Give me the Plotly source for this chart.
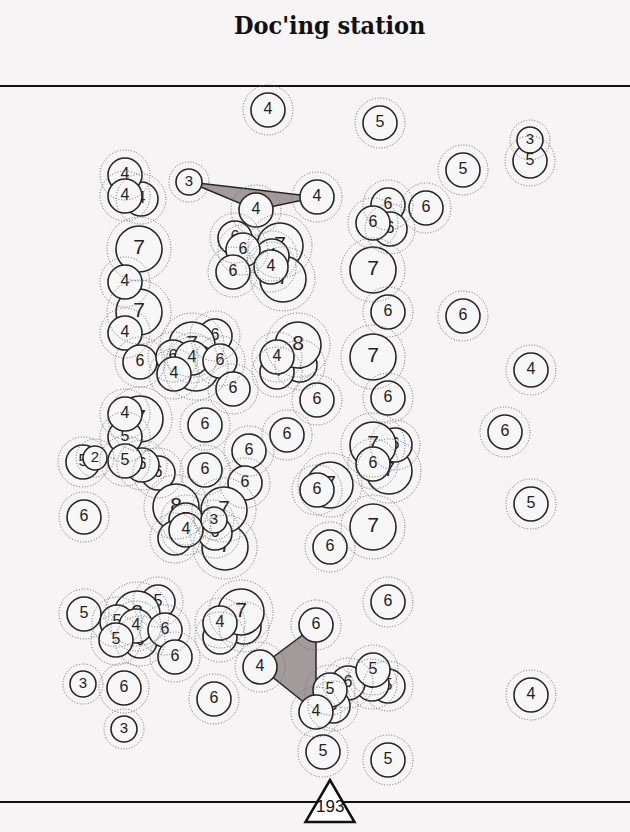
import plotly.graph_objects as go

# ---- data (positions, in chart units) ----
node_x = [268, 380, 463, 530, 530, 141, 125, 125, 189, 317, 256,
          235, 280, 283, 272, 243, 233, 271,
          388, 390, 373, 426, 373, 388, 463,
          139, 139, 125, 125, 140,
          215, 192, 196, 173, 192, 220, 174, 233,
          300, 277, 298, 277, 373, 317, 388, 531, 505, 287, 205,
          140, 125, 158, 142, 125, 125, 83, 95, 84, 249, 205, 245,
          176, 186, 175, 225, 224, 215, 186, 214,
          330, 317, 389, 395, 373, 373, 373, 330, 531,
          84, 158, 140, 137, 117, 136, 165, 116, 175, 83, 124, 124, 214,
          244, 220, 241, 220, 316, 388, 260,
          388, 372, 348, 373, 333, 330, 316, 323, 388, 531]
node_y = [110, 123, 170, 161, 140, 199, 175, 196, 182, 197, 210,
          238, 246, 279, 256, 250, 272, 267,
          205, 229, 223, 208, 270, 312, 316,
          249, 312, 282, 333, 362,
          336, 345, 368, 357, 358, 361, 374, 389,
          365, 372, 345, 357, 357, 400, 398, 370, 432, 435, 425,
          419, 437, 473, 465, 461, 414, 462, 458, 517, 451, 470, 483,
          507, 520, 538, 547, 510, 533, 530, 520,
          485, 490, 471, 445, 445, 464, 527, 547, 504,
          614, 602, 641, 614, 622, 626, 630, 640, 657, 684, 688, 729, 699,
          627, 637, 612, 623, 625, 602, 667,
          686, 684, 683, 670, 706, 690, 712, 752, 760, 695]
node_label = ['4', '5', '5', '5', '3', '4', '4', '4', '3', '4', '4',
              '6', '7', '7', '4', '6', '6', '4',
              '6', '6', '6', '6', '7', '6', '6',
              '7', '7', '4', '4', '6',
              '6', '7', '7', '6', '4', '6', '4', '6',
              '6', '4', '8', '4', '7', '6', '6', '4', '6', '6', '6',
              '7', '5', '6', '6', '5', '4', '5', '2', '6', '6', '6', '6',
              '8', '5', '6', '7', '7', '6', '4', '3',
              '7', '6', '7', '6', '7', '6', '7', '6', '5',
              '5', '5', '6', '8', '5', '4', '6', '5', '6', '3', '6', '3', '6',
              '6', '4', '7', '4', '6', '6', '4',
              '5', '5', '6', '5', '6', '5', '4', '5', '5', '4']

# groups (shaded polygons) as indices into the node arrays
groups = [[8, 10, 9], [95, 97, 104]]

station_x = 330
station_y = 802
station_label = '193'

title = "Doc'ing station"

# ---- styling ----
BG = '#f6f4f5'
FILL = '#f8f7f7'
EDGE = '#262626'
RADIUS = {'2': 12, '3': 13, '4': 17, '5': 17, '6': 17, '7': 23, '8': 23}
RING = {'2': 19, '3': 20, '4': 25, '5': 25, '6': 25, '7': 32, '8': 32}
FONT = {'2': 15, '3': 15, '4': 16, '5': 16, '6': 16, '7': 21, '8': 21}

fig = go.Figure()

# shaded polygons below nodes
for g in groups:
    xs = [node_x[i] for i in g] + [node_x[g[0]]]
    ys = [node_y[i] for i in g] + [node_y[g[0]]]
    fig.add_trace(go.Scatter(x=xs, y=ys, mode='lines', fill='toself',
                             fillcolor='#a39b9b',
                             line=dict(color=EDGE, width=1.5),
                             hoverinfo='skip', showlegend=False))

# nodes, one trace each so later nodes cover earlier ones
for x, y, lab in zip(node_x, node_y, node_label):
    fig.add_trace(go.Scatter(
        x=[x], y=[y], mode='markers+text', text=[lab],
        textposition='middle center',
        textfont=dict(family='Liberation Sans, Arial, sans-serif',
                      size=FONT[lab], color='#222222'),
        marker=dict(symbol='circle', size=2 * RADIUS[lab], color=FILL,
                    line=dict(color=EDGE, width=1.6)),
        hoverinfo='skip', showlegend=False))

shapes = []
# horizontal rules
for yy in (86, station_y):
    shapes.append(dict(type='line', xref='paper', yref='y', x0=0, x1=1,
                       y0=yy, y1=yy, line=dict(color='#111111', width=2),
                       layer='above'))
# dotted outer rings
for x, y, lab in zip(node_x, node_y, node_label):
    R = RING[lab]
    shapes.append(dict(type='circle', xref='x', yref='y',
                       xsizemode='pixel', ysizemode='pixel',
                       xanchor=x, yanchor=y, x0=-R, x1=R, y0=-R, y1=R,
                       line=dict(color='#707070', width=1, dash='1px,1.8px'),
                       layer='above'))
# station triangle
shapes.append(dict(type='path', xref='x', yref='y',
                   xsizemode='pixel', ysizemode='pixel',
                   xanchor=station_x, yanchor=station_y,
                   path='M -24.5,-20 L 24.5,-20 L 0,22 Z',
                   fillcolor='#ffffff', line=dict(color='#111111', width=2.5),
                   layer='above'))

fig.update_layout(
    width=630, height=832,
    margin=dict(l=0, r=0, t=0, b=0),
    paper_bgcolor=BG, plot_bgcolor=BG,
    xaxis=dict(range=[0, 630], visible=False, fixedrange=True),
    yaxis=dict(range=[832, 0], visible=False, fixedrange=True),
    shapes=shapes,
    annotations=[
        dict(text='<b>' + title + '</b>', x=329, y=25, xref='x', yref='y',
             showarrow=False,
             font=dict(family='DejaVu Serif Condensed', size=25, color='#111111')),
        dict(text=station_label, x=station_x, y=station_y + 4, xref='x', yref='y',
             showarrow=False,
             font=dict(family='Liberation Sans, Arial', size=17, color='#111111')),
    ],
    showlegend=False,
)

fig.write_html('out.html')
